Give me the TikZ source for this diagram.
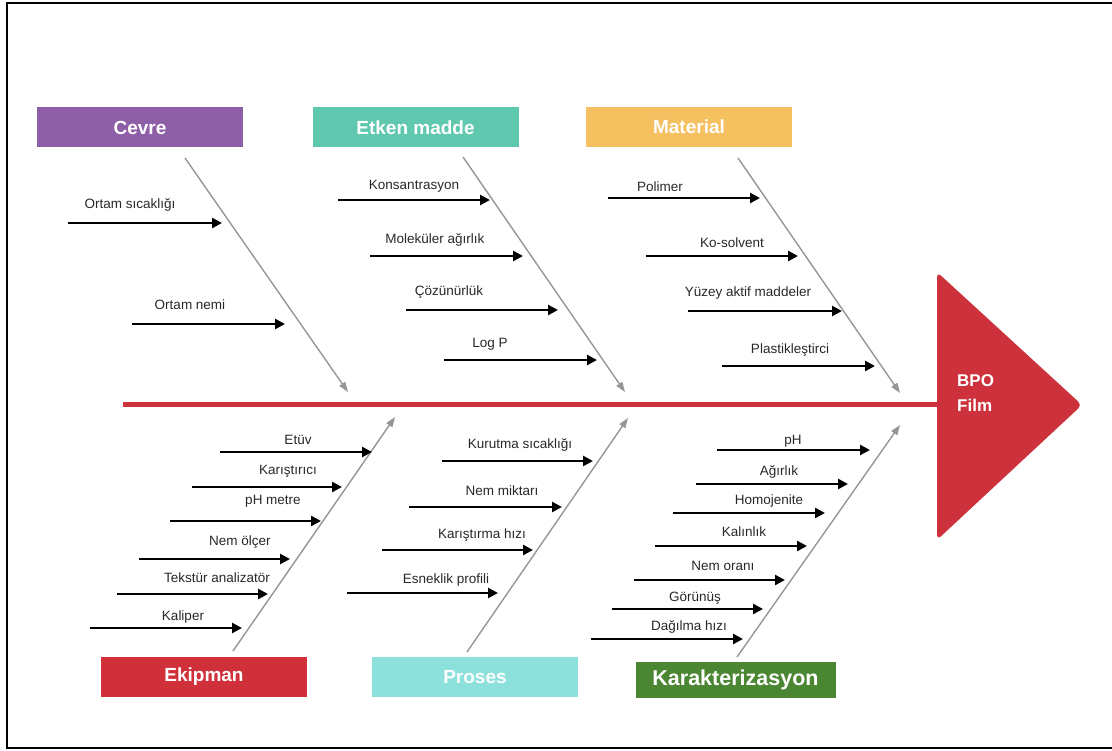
\documentclass[tikz,border=0pt]{standalone}
\usepackage{fontspec}
\setmainfont{Liberation Sans}
\usetikzlibrary{arrows.meta}
\definecolor{cevrec}{RGB}{142,94,166}
\definecolor{etkenc}{RGB}{95,200,175}
\definecolor{materialc}{RGB}{245,192,95}
\definecolor{ekipmanc}{RGB}{208,48,58}
\definecolor{prosesc}{RGB}{140,225,220}
\definecolor{karakc}{RGB}{75,135,50}
\definecolor{spinec}{RGB}{205,50,60}
\definecolor{bonec}{RGB}{150,150,150}
\definecolor{lblc}{RGB}{40,40,40}
\begin{document}
\begin{tikzpicture}[x=1pt,y=-1pt,
  sub/.style={draw=black, line width=2.8pt, -{Triangle[length=10pt,width=10pt]}},
  bone/.style={draw=bonec, line width=1.4pt, -{Triangle[length=10pt,width=7pt]}},
  lbl/.style={font=\fontsize{13.5}{15}\selectfont, text=lblc, inner sep=0pt},
  cat/.style={minimum width=206pt, minimum height=40pt, inner sep=0pt, text=white,
              font=\fontsize{19}{21}\selectfont\bfseries}]
\useasboundingbox (0,0) rectangle (1112,751);
% frame
\draw[line width=1.5pt] (1113,3) -- (7,3) -- (7,748) -- (1113,748);

% categories
\node[cat, fill=cevrec] (cevre) at (140,127.5) {Cevre};
\node[cat, fill=etkenc] (etken) at (415.5,127.5) {Etken madde};
\node[cat, fill=materialc] (material) at (689,127) {Material};
\node[cat, fill=ekipmanc] (ekipman) at (204,677) {Ekipman};
\node[cat, fill=prosesc] (proses) at (475,677) {Proses};
\node[cat, fill=karakc, minimum width=200pt, minimum height=36pt,
      font=\fontsize{21.5}{23}\selectfont\bfseries] (karak) at (735.5,680) {Karakterizasyon};

% head
\coordinate (triA) at (937,272);
\coordinate (triB) at (1082,405);
\coordinate (triC) at (937,540);
\fill[spinec, rounded corners=5pt] (triA) -- (triB) -- (triC) -- cycle;
\node[align=left, text=white, inner sep=0pt, font=\fontsize{17}{25}\selectfont\bfseries,
      anchor=west] (head) at (957,393) {BPO\\Film};

% spine
\coordinate (spineS) at (123,405);
\coordinate (spineE) at (938,405);
\draw[spinec, line width=5pt] (spineS) -- (spineE);

% bones
\coordinate (b1s) at (185,158); \coordinate (b1e) at (348,392);
\coordinate (b2s) at (463,157); \coordinate (b2e) at (625,392);
\coordinate (b3s) at (738,158); \coordinate (b3e) at (900,393);
\coordinate (b4s) at (233,651); \coordinate (b4e) at (395,417);
\coordinate (b5s) at (467,652); \coordinate (b5e) at (628,418);
\coordinate (b6s) at (737,657); \coordinate (b6e) at (900,425);
\foreach \b in {b1,b2,b3,b4,b5,b6} {\draw[bone] (\b s) -- (\b e);}

% causes
\foreach \i/\xa/\xb/\yy/\lx/\ly/\t in {
 c1/68/222/223/130/205/Ortam sıcaklığı,
 c2/132/285/324/190/305/Ortam nemi,
 e1/338/490/200/414/186/Konsantrasyon,
 e2/370/523/256/435/240/Moleküler ağırlık,
 e3/406/558/310/449/292/Çözünürlük,
 e4/444/597/360/490/344/Log P,
 m1/608/760/198/660/187/Polimer,
 m2/646/798/256/732/243/Ko-solvent,
 m3/688/842/311/748/293/Yüzey aktif maddeler,
 m4/722/875/366/790/350/Plastikleştirci,
 k1/220/372/452/298/440/Etüv,
 k2/192/342/487/288/471/Karıştırıcı,
 k3/170/321/521/273/501/pH metre,
 k4/139/290/559/240/542/Nem ölçer,
 k5/117/268/594/217/578/Tekstür analizatör,
 k6/90/242/628/183/617/Kaliper,
 p1/442/593/461/520/445/Kurutma sıcaklığı,
 p2/409/562/507/502/491/Nem miktarı,
 p3/382/533/550/482/535/Karıştırma hızı,
 p4/347/498/593/446/580/Esneklik profili,
 z1/717/870/450/793/441/pH,
 z2/696/848/484/779/472/Ağırlık,
 z3/673/825/513/769/501/Homojenite,
 z4/655/807/546/744/532/Kalınlık,
 z5/634/785/580/723/566/Nem oranı,
 z6/612/763/609/695/598/Görünüş,
 z7/591/743/639/689/627/Dağılma hızı}
{
 \coordinate (\i s) at (\xa,\yy);
 \coordinate (\i e) at (\xb,\yy);
 \draw[sub] (\i s) -- (\i e);
 \node[lbl] (\i l) at (\lx,\ly) {\t};
}
\end{tikzpicture}
\end{document}
